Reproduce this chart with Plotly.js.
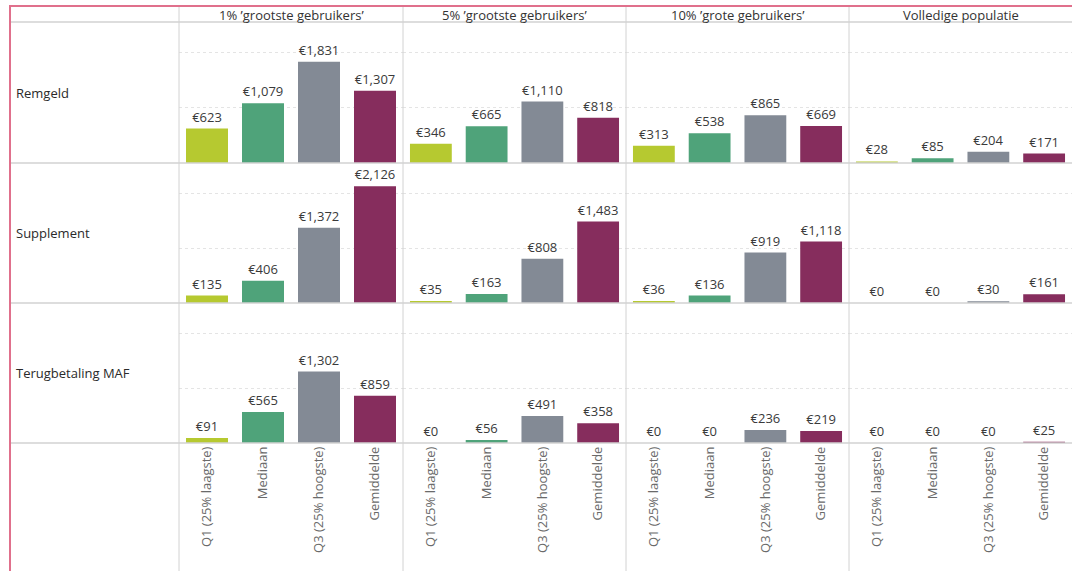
<!DOCTYPE html>
<html>
<head>
<meta charset="utf-8">
<script src="https://cdn.plot.ly/plotly-3.0.1.min.js"></script>
<style>html,body{margin:0;padding:0;background:#fff;}#chart{width:1072px;height:571px;}</style>
</head>
<body>
<div id="chart"></div>
<script>
// ---- data ----
const categories = ['Q1 (25% laagste)', 'Mediaan', 'Q3 (25% hoogste)', 'Gemiddelde'];
const groups = ['1% ’grootste gebruikers’', '5% ’grootste gebruikers’', '10% ’grote gebruikers’', 'Volledige populatie'];
const rowLabels = ['Remgeld', 'Supplement', 'Terugbetaling MAF'];
const barColors = ['#b6c930', '#4fa37a', '#838a95', '#862d5d'];
// values per group: [1%, 5%, 10%, volledige populatie]
const remgeld = [[623, 1079, 1831, 1307], [346, 665, 1110, 818], [313, 538, 865, 669], [28, 85, 204, 171]];
const supplement = [[135, 406, 1372, 2126], [35, 163, 808, 1483], [36, 136, 919, 1118], [0, 0, 30, 161]];
const terugbetalingMAF = [[91, 565, 1302, 859], [0, 56, 491, 358], [0, 0, 236, 219], [0, 0, 0, 25]];
const rowsData = [remgeld, supplement, terugbetalingMAF];

// ---- layout geometry (pixels) ----
const W = 1072, H = 571;
const colEdges = [179, 403, 626, 849, 1072];
const rowEdges = [22, 163, 303, 443];
const fx = p => p / W;
const fy = p => 1 - p / H;
const FONT = 'Open Sans, Noto Sans, sans-serif';

const traces = [];
const layout = {
  width: W, height: H,
  margin: {l: 0, r: 0, t: 0, b: 0},
  paper_bgcolor: '#fff', plot_bgcolor: 'rgba(0,0,0,0)',
  showlegend: false,
  bargap: 0.25,
  font: {family: FONT, size: 13, color: '#333'},
  annotations: [],
  shapes: []
};

let idx = 0;
for (let r = 0; r < 3; r++) {
  for (let c = 0; c < 4; c++) {
    idx++;
    const xa = idx === 1 ? 'xaxis' : 'xaxis' + idx;
    const ya = idx === 1 ? 'yaxis' : 'yaxis' + idx;
    const xr = idx === 1 ? 'x' : 'x' + idx;
    const yr = idx === 1 ? 'y' : 'y' + idx;
    const vals = rowsData[r][c];
    traces.push({
      type: 'bar', x: categories, y: vals, xaxis: xr, yaxis: yr,
      marker: {color: barColors},
      text: vals.map(v => '€' + v.toLocaleString('en-US')),
      textposition: 'outside', cliponaxis: false,
      textfont: {family: FONT, size: 13, color: '#3a3a3a'},
      hoverinfo: 'none'
    });
    layout[xa] = {
      domain: [fx(colEdges[c]), fx(colEdges[c + 1])],
      anchor: yr, type: 'category', range: [-0.5, 3.5],
      showticklabels: r === 2, tickangle: -90, ticks: '',
      tickfont: {family: FONT, size: 13, color: '#6a6a6a'},
      showgrid: false, zeroline: false, showline: false, fixedrange: true
    };
    layout[ya] = {
      domain: [fy(rowEdges[r + 1]), fy(rowEdges[r])],
      anchor: xr, range: [0, 2550],
      tickvals: [1000, 2000], showticklabels: false,
      showgrid: true, gridcolor: '#e4e4e4', griddash: 'dot', gridwidth: 1,
      zeroline: false, showline: false, fixedrange: true
    };
  }
}

// headers
groups.forEach((g, c) => {
  layout.annotations.push({
    text: g, xref: 'paper', yref: 'paper',
    x: fx((colEdges[c] + colEdges[c + 1]) / 2), y: fy(15),
    xanchor: 'center', yanchor: 'middle', showarrow: false,
    font: {family: FONT, size: 13, color: '#333'}
  });
});
rowLabels.forEach((t, r) => {
  layout.annotations.push({
    text: t, xref: 'paper', yref: 'paper',
    x: fx(14), y: fy((rowEdges[r] + rowEdges[r + 1]) / 2),
    xanchor: 'left', yanchor: 'middle', showarrow: false,
    font: {family: FONT, size: 13, color: '#2a2a2a'}
  });
});

// grid lines
const lc = '#d2d2d2';
[179, 403, 626, 849].forEach(x => {
  layout.shapes.push({type: 'line', xref: 'paper', yref: 'paper',
    x0: fx(x), x1: fx(x), y0: fy(6), y1: 0, line: {color: lc, width: 1}});
});
rowEdges.forEach(y => {
  layout.shapes.push({type: 'line', xref: 'paper', yref: 'paper',
    x0: fx(10), x1: 1, y0: fy(y), y1: fy(y), line: {color: lc, width: 1.5}});
});
// pink border
layout.shapes.push({type: 'line', xref: 'paper', yref: 'paper',
  x0: fx(10), x1: fx(10), y0: fy(6), y1: 0, line: {color: '#e0708c', width: 2}});
layout.shapes.push({type: 'line', xref: 'paper', yref: 'paper',
  x0: fx(9), x1: 1, y0: fy(6), y1: fy(6), line: {color: '#e0708c', width: 2}});

Plotly.newPlot('chart', traces, layout, {displayModeBar: false, staticPlot: true});
</script>
</body>
</html>
